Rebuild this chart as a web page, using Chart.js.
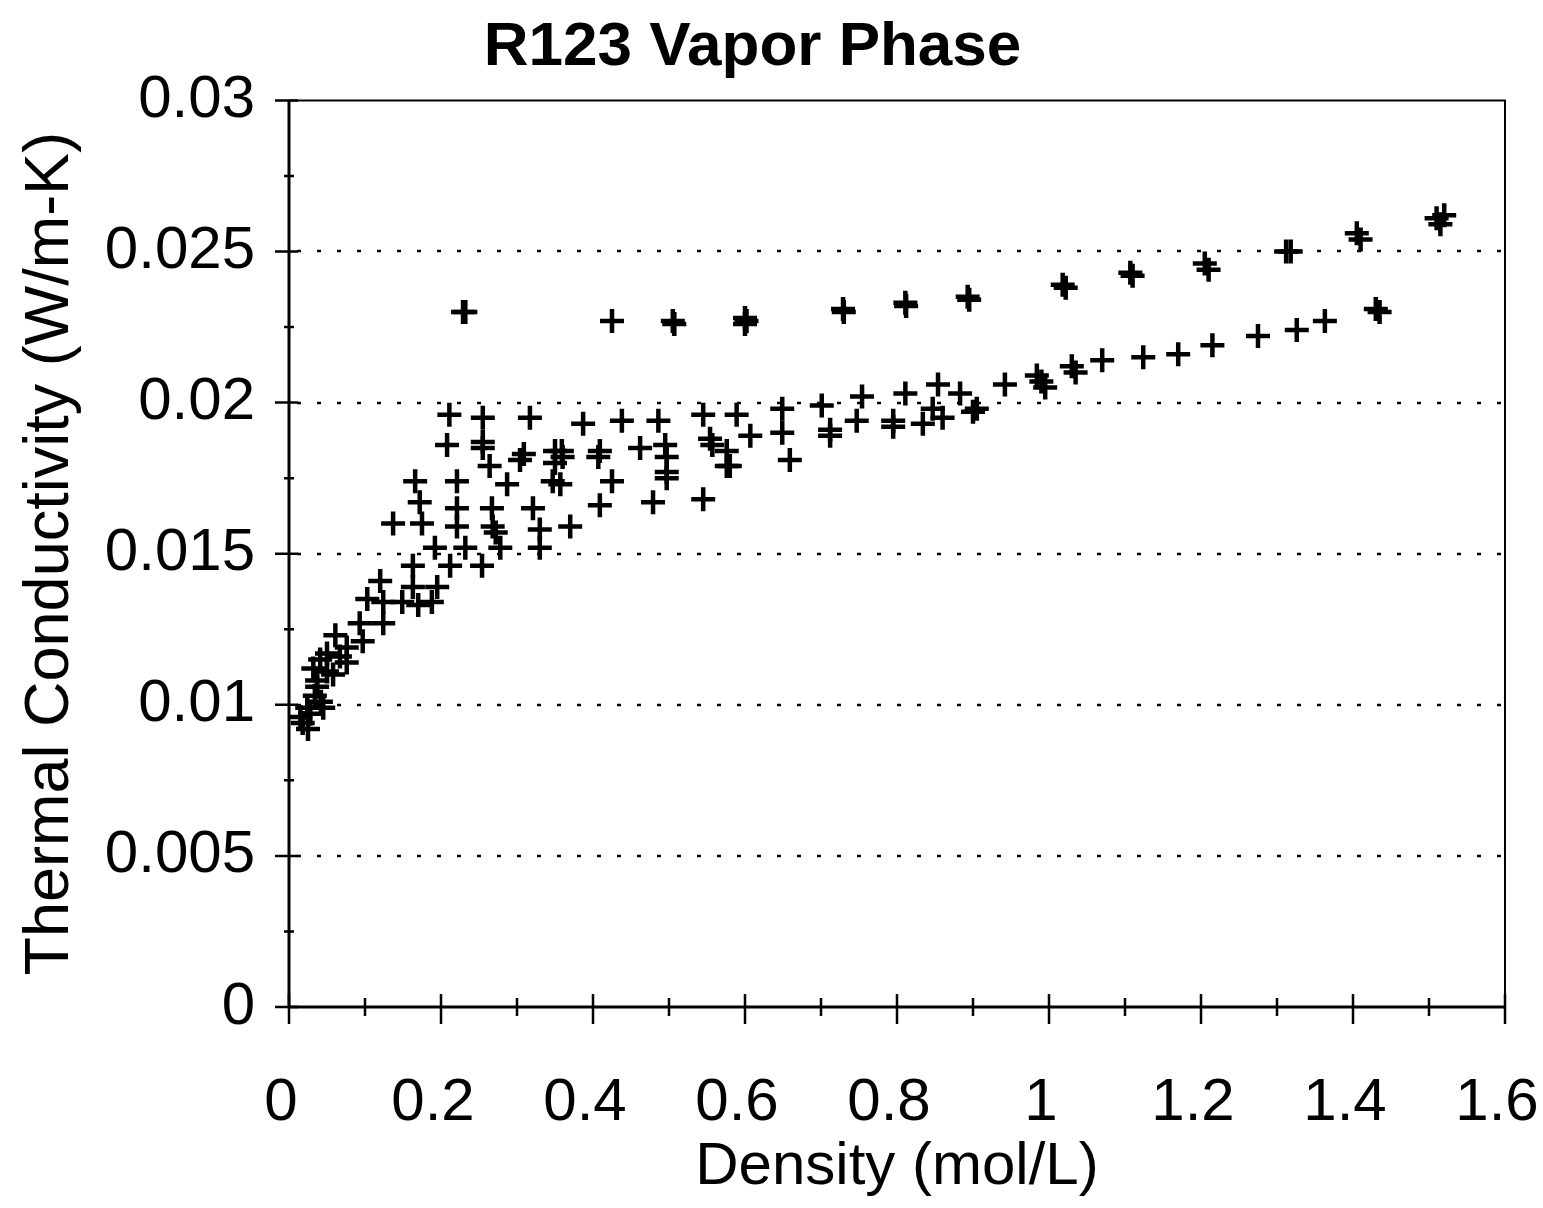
<!DOCTYPE html>
<html>
<head>
<meta charset="utf-8">
<title>R123 Vapor Phase</title>
<script src="https://cdn.jsdelivr.net/npm/chart.js@4.4.1/dist/chart.umd.min.js"></script>
<style>
  html, body { margin: 0; padding: 0; background: #fff; }
</style>
</head>
<body>
<canvas id="chart" width="1543" height="1208"></canvas>
<script>
// axis ticks
const xTicks = [0, 0.2, 0.4, 0.6, 0.8, 1, 1.2, 1.4, 1.6];
const xTickLabels = ['0', '0.2', '0.4', '0.6', '0.8', '1', '1.2', '1.4', '1.6'];
const yTicks = [0, 0.005, 0.01, 0.015, 0.02, 0.025, 0.03];
const yTickLabels = ['0', '0.005', '0.01', '0.015', '0.02', '0.025', '0.03'];

// main vapor cluster (density mol/L, conductivity W/m-K)
const clusterDensity = [
  0.015, 0.018, 0.025, 0.024, 0.045, 0.034, 0.037, 0.037, 0.050, 0.032,
  0.076, 0.041, 0.067, 0.050, 0.076, 0.097, 0.061, 0.093, 0.124, 0.103,
  0.124, 0.149, 0.170, 0.188, 0.120, 0.163, 0.195, 0.163, 0.212, 0.254,
  0.192, 0.232, 0.278, 0.330, 0.137, 0.175, 0.221, 0.268, 0.272, 0.330,
  0.370, 0.172, 0.221, 0.267, 0.321, 0.166, 0.221, 0.287, 0.347, 0.357,
  0.425, 0.497, 0.497, 0.409, 0.479, 0.545, 0.264, 0.304, 0.309, 0.350,
  0.208, 0.255, 0.255, 0.350, 0.359, 0.360, 0.409, 0.407, 0.462, 0.495,
  0.497, 0.554, 0.557, 0.576, 0.580, 0.576, 0.607, 0.649, 0.659, 0.712,
  0.712, 0.747, 0.795, 0.795, 0.834, 0.847, 0.860, 0.900, 0.905, 0.211,
  0.255, 0.317, 0.387, 0.438, 0.486, 0.545, 0.589, 0.649, 0.701, 0.754,
  0.811, 0.854, 0.883, 0.028, 0.042, 0.058
];
const clusterK = [
  0.0096, 0.0094, 0.0092, 0.0099, 0.0099, 0.0103, 0.0106, 0.0108, 0.0111, 0.0112,
  0.0114, 0.0115, 0.0116, 0.0117, 0.0119, 0.0121, 0.0123, 0.0127, 0.0127, 0.0135,
  0.0134, 0.0134, 0.0133, 0.0134, 0.0141, 0.0139, 0.0139, 0.0146, 0.0146, 0.0146,
  0.0152, 0.0152, 0.0152, 0.0152, 0.0160, 0.0160, 0.0159, 0.0159, 0.0157, 0.0158,
  0.0159, 0.0167, 0.0165, 0.0165, 0.0165, 0.0174, 0.0174, 0.0173, 0.0174, 0.0173,
  0.0174, 0.0175, 0.0177, 0.0166, 0.0167, 0.0168, 0.0179, 0.0181, 0.0183, 0.0180,
  0.0186, 0.0185, 0.0187, 0.0184, 0.0184, 0.0182, 0.0184, 0.0182, 0.0185, 0.0186,
  0.0182, 0.0188, 0.0186, 0.0179, 0.0179, 0.0184, 0.0189, 0.0190, 0.0181, 0.0191,
  0.0189, 0.0194, 0.0194, 0.0192, 0.0193, 0.0198, 0.0195, 0.0197, 0.0198, 0.0196,
  0.0195, 0.0195, 0.0193, 0.0194, 0.0194, 0.0196, 0.0196, 0.0198, 0.0199, 0.0202,
  0.0203, 0.0206, 0.0203, 0.0097, 0.0101, 0.0110
];

// lower branch continuing to high density
const lowerDensity = [0.942, 0.984, 0.990, 0.995, 1.030, 1.035, 1.070, 1.124, 1.170, 1.215, 1.275, 1.326, 1.363, 1.430, 1.435];
const lowerK = [0.0206, 0.0209, 0.0207, 0.0205, 0.0212, 0.0210, 0.0214, 0.0215, 0.0216, 0.0219, 0.0222, 0.0224, 0.0227, 0.0231, 0.0230];

// upper branch
const upperDensity = [0.229, 0.232, 0.425, 0.505, 0.507, 0.600, 0.600, 0.602, 0.729, 0.730, 0.811, 0.812, 0.893, 0.895, 1.018, 1.022, 1.107, 1.110, 1.205, 1.210, 1.312, 1.318, 1.405, 1.410, 1.510, 1.520, 1.515];
const upperK = [0.0230, 0.0230, 0.0227, 0.0227, 0.0226, 0.0228, 0.0226, 0.0227, 0.0231, 0.0230, 0.0233, 0.0232, 0.0235, 0.0234, 0.0239, 0.0238, 0.0243, 0.0242, 0.0246, 0.0244, 0.0250, 0.0250, 0.0256, 0.0254, 0.0261, 0.0262, 0.0259];

const FONT = "'Liberation Sans', Arial, Helvetica, sans-serif";

function toPoints(xs, ys) {
  return xs.map((x, i) => ({ x: x, y: ys[i] }));
}

function crossSet(xs, ys) {
  return {
    data: toPoints(xs, ys),
    showLine: false,
    pointStyle: 'cross',
    pointRadius: 12,
    pointHoverRadius: 12,
    pointBorderWidth: 4.5,
    borderColor: '#000',
    backgroundColor: '#000'
  };
}

// frame, dotted grid and ticks that cross the axes
const axisMarks = {
  id: 'axisMarks',
  beforeDatasetsDraw(chart) {
    const { ctx, chartArea: a, scales: { x, y } } = chart;
    ctx.save();
    ctx.strokeStyle = '#000';

    ctx.lineWidth = 2.5;
    ctx.setLineDash([4, 16]);
    yTicks.slice(1, -1).forEach(v => {
      const py = Math.round(y.getPixelForValue(v));
      ctx.beginPath();
      ctx.moveTo(a.left + 8, py);
      ctx.lineTo(a.right, py);
      ctx.stroke();
    });
    ctx.setLineDash([]);

    ctx.lineWidth = 2;
    ctx.beginPath();
    ctx.moveTo(a.left, a.top);
    ctx.lineTo(a.right, a.top);
    ctx.lineTo(a.right, a.bottom);
    ctx.stroke();

    ctx.lineWidth = 3;
    ctx.beginPath();
    ctx.moveTo(a.left, a.top);
    ctx.lineTo(a.left, a.bottom);
    ctx.lineTo(a.right, a.bottom);
    ctx.stroke();

    ctx.lineWidth = 2.5;
    ctx.beginPath();
    for (let i = 0; i < yTicks.length; i++) {
      const py = y.getPixelForValue(yTicks[i]);
      ctx.moveTo(a.left - 14, py);
      ctx.lineTo(a.left + 9, py);
      if (i < yTicks.length - 1) {
        const pm = y.getPixelForValue(yTicks[i] + 0.0025);
        ctx.moveTo(a.left - 5, pm);
        ctx.lineTo(a.left + 5, pm);
      }
    }
    for (let i = 0; i < xTicks.length; i++) {
      const px = x.getPixelForValue(xTicks[i]);
      ctx.moveTo(px, a.bottom - 13);
      ctx.lineTo(px, a.bottom + 17);
      if (i < xTicks.length - 1) {
        const pm = x.getPixelForValue(xTicks[i] + 0.1);
        ctx.moveTo(pm, a.bottom - 9);
        ctx.lineTo(pm, a.bottom + 9);
      }
    }
    ctx.stroke();
    ctx.restore();
  }
};

new Chart(document.getElementById('chart'), {
  type: 'scatter',
  data: {
    datasets: [
      crossSet(clusterDensity, clusterK),
      crossSet(lowerDensity, lowerK),
      crossSet(upperDensity, upperK)
    ]
  },
  options: {
    responsive: false,
    animation: false,
    layout: { padding: { left: 0, right: 38, top: 0, bottom: 0 } },
    plugins: {
      legend: { display: false },
      tooltip: { enabled: false },
      title: {
        display: true,
        text: 'R123 Vapor Phase',
        color: '#000',
        font: { family: FONT, size: 62, weight: 'bold' },
        padding: { top: 11, bottom: 15 }
      }
    },
    scales: {
      x: {
        type: 'linear',
        min: 0,
        max: 1.6,
        grid: { display: false, drawTicks: false },
        border: { display: false },
        afterBuildTicks: s => { s.ticks = xTicks.map(v => ({ value: v })); },
        afterFit: s => { s.height = 201; s.paddingLeft = 0; s.paddingRight = 0; },
        ticks: {
          color: '#000',
          font: { family: FONT, size: 60 },
          padding: 60,
          labelOffset: -8,
          maxRotation: 0,
          callback: (v, i) => xTickLabels[i]
        },
        title: {
          display: true,
          text: 'Density (mol/L)',
          color: '#000',
          font: { family: FONT, size: 60 },
          padding: { top: 0, bottom: 5 }
        }
      },
      y: {
        type: 'linear',
        min: 0,
        max: 0.03,
        grid: { display: false, drawTicks: false },
        border: { display: false },
        afterBuildTicks: s => { s.ticks = yTicks.map(v => ({ value: v })); },
        afterFit: s => { s.width = 289; s.paddingTop = 0; s.paddingBottom = 0; },
        ticks: {
          color: '#000',
          font: { family: FONT, size: 60 },
          padding: 34,
          callback: (v, i) => yTickLabels[i]
        },
        title: {
          display: true,
          text: 'Thermal Conductivity (W/m-K)',
          color: '#000',
          font: { family: FONT, size: 63 },
          padding: { top: 13, bottom: 0 }
        }
      }
    }
  },
  plugins: [axisMarks]
});
</script>
</body>
</html>
